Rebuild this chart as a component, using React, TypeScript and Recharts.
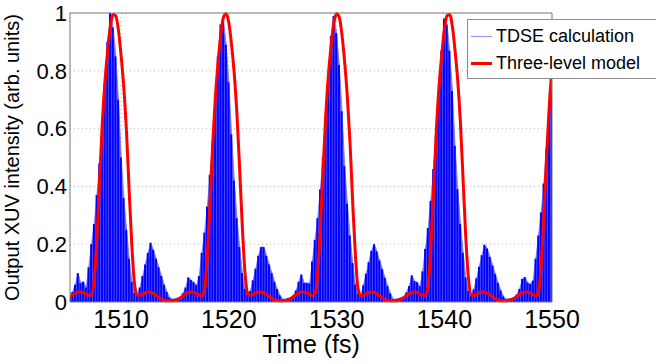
import { ComposedChart, Area, Bar, Line, XAxis, YAxis, CartesianGrid, ReferenceLine, Legend, Label } from 'recharts';

// sampling grid of the time axis (fs)
const timeStart = 1505.25;
const timeStep = 0.25;

// TDSE envelope
const tdseValues = [
  0.02, 0.035, 0.06, 0.10, 0.065, 0.07, 0.05, 0.12, 0.2, 0.27,
  0.37, 0.48, 0.6, 0.76, 0.9, 1.0, 0.95, 0.85, 0.7, 0.5,
  0.36, 0.25, 0.15, 0.07, 0.03, 0.02, 0.05, 0.09, 0.13, 0.17,
  0.205, 0.18, 0.15, 0.12, 0.09, 0.06, 0.035, 0.015, 0.01, 0.011,
  0.014, 0.018, 0.03, 0.05, 0.085, 0.076, 0.068, 0.058, 0.09, 0.17,
  0.24, 0.33, 0.44, 0.55, 0.7, 0.85, 0.96, 0.97, 0.89, 0.76,
  0.58, 0.42, 0.29, 0.19, 0.10, 0.045, 0.024, 0.038, 0.075, 0.115,
  0.16, 0.19, 0.19, 0.16, 0.13, 0.10, 0.07, 0.045, 0.023, 0.01,
  0.01, 0.013, 0.016, 0.023, 0.04, 0.07, 0.095, 0.066, 0.066, 0.064,
  0.14, 0.215, 0.29, 0.39, 0.5, 0.63, 0.79, 0.92, 0.99, 0.93,
  0.82, 0.66, 0.47, 0.34, 0.23, 0.135, 0.06, 0.028, 0.026, 0.058,
  0.098, 0.138, 0.177, 0.20, 0.175, 0.144, 0.114, 0.084, 0.055, 0.03,
  0.01, 0.01, 0.012, 0.015, 0.019, 0.033, 0.055, 0.092, 0.072, 0.068,
  0.054, 0.106, 0.184, 0.256, 0.35, 0.46, 0.576, 0.73, 0.87, 0.98,
  0.96, 0.87, 0.73, 0.54, 0.39, 0.27, 0.17, 0.085, 0.038, 0.022,
  0.044, 0.082, 0.122, 0.162, 0.198, 0.185, 0.156, 0.126, 0.096, 0.066,
  0.04, 0.019, 0.01, 0.011, 0.013, 0.017, 0.026, 0.045, 0.08, 0.086,
  0.067, 0.062, 0.074, 0.15, 0.23, 0.31, 0.41, 0.53, 0.66, 0.81,
];

// three-level model
const modelValues = [
  0.017, 0.025, 0.030, 0.034, 0.035, 0.032, 0.027, 0.023, 0.025, 0.08,
  0.22, 0.42, 0.62, 0.765, 0.87, 0.953, 0.995, 0.99, 0.94, 0.85,
  0.74, 0.585, 0.38, 0.19, 0.06, 0.023, 0.024, 0.028, 0.032, 0.035,
  0.033, 0.029, 0.023, 0.016, 0.01, 0.006, 0.004, 0.004, 0.004, 0.005,
  0.009, 0.014, 0.021, 0.028, 0.033, 0.035, 0.033, 0.029, 0.024, 0.022,
  0.045, 0.16, 0.34, 0.55, 0.71, 0.83, 0.925, 0.985, 0.998, 0.965,
  0.89, 0.79, 0.65, 0.46, 0.26, 0.10, 0.03, 0.023, 0.026, 0.031,
  0.034, 0.035, 0.031, 0.026, 0.019, 0.012, 0.007, 0.005, 0.004, 0.004,
  0.005, 0.007, 0.012, 0.019, 0.026, 0.031, 0.035, 0.034, 0.031, 0.026,
  0.022, 0.03, 0.10, 0.26, 0.46, 0.65, 0.79, 0.89, 0.965, 0.998,
  0.985, 0.925, 0.83, 0.71, 0.55, 0.34, 0.16, 0.045, 0.022, 0.024,
  0.029, 0.033, 0.035, 0.033, 0.028, 0.021, 0.014, 0.009, 0.005, 0.004,
  0.004, 0.004, 0.006, 0.01, 0.016, 0.023, 0.029, 0.033, 0.035, 0.032,
  0.028, 0.024, 0.023, 0.06, 0.19, 0.38, 0.585, 0.74, 0.85, 0.94,
  0.99, 0.995, 0.953, 0.87, 0.765, 0.62, 0.42, 0.22, 0.08, 0.025,
  0.023, 0.027, 0.032, 0.035, 0.034, 0.030, 0.025, 0.017, 0.011, 0.007,
  0.004, 0.004, 0.004, 0.005, 0.008, 0.013, 0.02, 0.027, 0.032, 0.035,
  0.034, 0.03, 0.025, 0.022, 0.035, 0.13, 0.30, 0.51, 0.68, 0.81,
];

const xTicks = [1510, 1520, 1530, 1540, 1550];
const yTicks = [0, 0.2, 0.4, 0.6, 0.8, 1];
const seriesNames = ['TDSE calculation', 'Three-level model'];

const FONT = '"Liberation Sans", Arial, sans-serif';

const chartData = tdseValues.map((tdse, i) => ({
  time: timeStart + timeStep * i,
  tdse,
  model: modelValues[i],
}));

const LegendBox = () => (
  <div
    style={{
      position: 'relative',
      width: 220,
      height: 58,
      border: '1px solid #8c8c8c',
      background: '#fff',
      fontFamily: FONT,
      fontSize: 18,
      color: '#000',
    }}
  >
    {seriesNames.map((name, i) => (
      <div
        key={name}
        style={{ position: 'absolute', left: 3, top: 3 + i * 27, height: 26, display: 'flex', alignItems: 'center', whiteSpace: 'nowrap' }}
      >
        <span
          style={{
            display: 'inline-block',
            width: 21,
            height: i === 0 ? 1 : 3,
            background: i === 0 ? '#9393ff' : '#ff0000',
            marginRight: 4,
          }}
        />
        {name}
      </div>
    ))}
  </div>
);

export default function App() {
  return (
    <div style={{ position: 'absolute', left: 0, top: 0, width: 656, height: 364, overflow: 'hidden', background: '#fff' }}>
      <ComposedChart width={656} height={364} data={chartData} margin={{ top: 13, right: 104, left: 0, bottom: 0 }}>
        <CartesianGrid stroke="#b4b4b4" strokeDasharray="1 3" />
        <XAxis
          dataKey="time"
          type="number"
          domain={[1505.25, 1550]}
          allowDataOverflow
          ticks={xTicks}
          height={62}
          tickLine={false}
          tickSize={0}
          tickMargin={8}
          stroke="#7f7f7f"
          tick={{ fill: '#000', fontSize: 25, fontFamily: FONT }}
        >
          <Label value="Time (fs)" position="insideBottom" offset={11} style={{ fontSize: 25, fontFamily: FONT, fill: '#000' }} />
        </XAxis>
        <YAxis
          type="number"
          domain={[0, 1]}
          ticks={yTicks}
          width={70}
          tickLine={false}
          tickSize={0}
          tickMargin={3}
          stroke="#7f7f7f"
          tickFormatter={(v: number) => (v === 0 || v === 1 ? String(v) : v.toFixed(1))}
          tick={{ fill: '#000', fontSize: 22, fontFamily: FONT }}
        >
          <Label
            value="Output XUV intensity (arb. units)"
            angle={-90}
            position="insideLeft"
            offset={12}
            style={{ fontSize: 20, fontFamily: FONT, fill: '#000', textAnchor: 'middle' }}
          />
        </YAxis>
        <Area
          dataKey="tdse"
          type="linear"
          fill="#6464ff"
          fillOpacity={1}
          stroke="#8080ff"
          strokeWidth={1}
          isAnimationActive={false}
        />
        <Bar dataKey="tdse" fill="#0000ff" barSize={2} isAnimationActive={false} />
        <Line
          dataKey="model"
          type="monotone"
          stroke="#ff0000"
          strokeWidth={3}
          dot={false}
          activeDot={false}
          isAnimationActive={false}
        />
        <ReferenceLine y={1} stroke="#7f7f7f" />
        <ReferenceLine x={1550} stroke="#7f7f7f" />
        <Legend
          verticalAlign="middle"
          layout="horizontal"
          content={() => <LegendBox />}
          wrapperStyle={{ left: 467, top: 19, width: 220, height: 60 }}
        />
      </ComposedChart>
    </div>
  );
}
